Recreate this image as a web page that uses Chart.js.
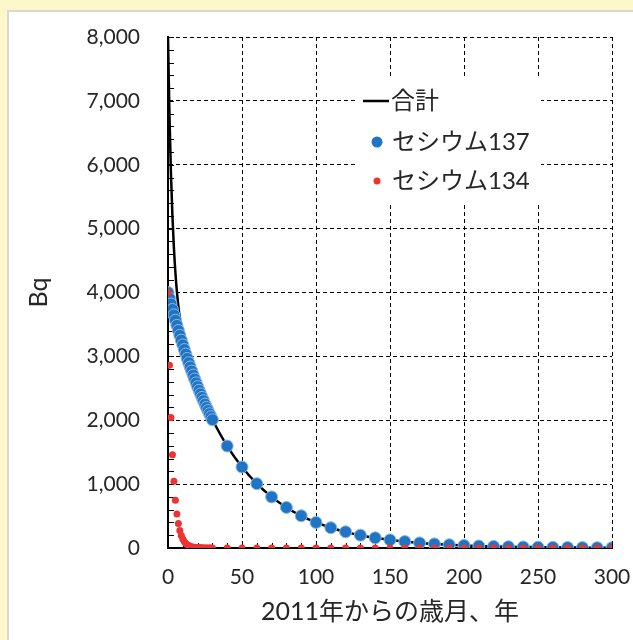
<!DOCTYPE html>
<html>
<head>
<meta charset="utf-8">
<script src="https://cdn.jsdelivr.net/npm/chart.js@4.4.1/dist/chart.umd.min.js"></script>
<style>
  html, body { margin: 0; padding: 0; background: #FCF8CC; }
  #frame { position: absolute; left: 0; top: 0; width: 633px; height: 640px; overflow: hidden; }
  #panel { position: absolute; left: 7px; top: 10px; right: -2px; bottom: -2px; background: #fff; border: 2px solid #d9d9d2; box-sizing: border-box; }
  #c { position: absolute; left: 0; top: 0; }
</style>
</head>
<body>
<div id="frame">
  <div id="panel"></div>
  <canvas id="c" width="633" height="640"></canvas>
</div>
<script>
// Years after 2011: yearly for the first 30 years, then every 10 years
const years = [0, 1, 2, 3, 4, 5, 6, 7, 8, 9, 10, 11, 12, 13, 14, 15, 16, 17, 18, 19, 20,
  21, 22, 23, 24, 25, 26, 27, 28, 29, 30,
  40, 50, 60, 70, 80, 90, 100, 110, 120, 130, 140, 150, 160, 170, 180, 190, 200,
  210, 220, 230, 240, 250, 260, 270, 280, 290, 300];

// Cs-137 activity (Bq)
const cs137 = [4000, 3909, 3820, 3734, 3649, 3566, 3485, 3406, 3328, 3253, 3179, 3107, 3036, 2967, 2900, 2834,
  2770, 2707, 2645, 2585, 2526, 2469, 2413, 2358, 2305, 2252, 2201, 2151, 2102, 2055, 2008,
  1596, 1268, 1007, 800, 635, 504, 400, 318, 253, 201, 159, 127, 101, 80, 64, 51, 40,
  32, 25, 20, 16, 13, 10, 8, 6, 5, 4];

// Cs-134 activity (Bq)
const cs134 = [4000, 2860, 2044, 1461, 1045, 747, 534, 382, 273, 195, 139, 100, 71, 51, 36, 26,
  19, 13, 10, 7, 5, 4, 3, 2, 1, 1, 1, 0, 0, 0, 0,
  0, 0, 0, 0, 0, 0, 0, 0, 0, 0, 0, 0, 0, 0, 0, 0, 0,
  0, 0, 0, 0, 0, 0, 0, 0, 0, 0];

// Total activity (Bq)
const total = [8000, 6769, 5864, 5195, 4694, 4313, 4019, 3788, 3601, 3448, 3318, 3207, 3107, 3018, 2936, 2860,
  2789, 2720, 2655, 2592, 2531, 2473, 2416, 2360, 2306, 2253, 2202, 2151, 2102, 2055, 2008,
  1596, 1268, 1007, 800, 635, 504, 400, 318, 253, 201, 159, 127, 101, 80, 64, 51, 40,
  32, 25, 20, 16, 13, 10, 8, 6, 5, 4];

const seriesNames = ['合計', 'セシウム137', 'セシウム134'];
const xTitle = '2011年からの歳月、年';
const yTitle = 'Bq';

const toPoints = (xs, ys) => xs.map((x, i) => ({ x: x, y: ys[i] }));

const LATIN = 'Lato, "Noto Sans CJK JP", sans-serif';
const TEXT = '#262626';

// Small inward tick marks along both axes
const minorTicks = {
  id: 'minorTicks',
  beforeDatasetsDraw(chart) {
    const { ctx, scales: { x, y } } = chart;
    ctx.save();
    ctx.strokeStyle = '#000';
    ctx.lineWidth = 1;
    ctx.beginPath();
    for (let v = 0; v <= 8000; v += 200) {
      const py = Math.round(y.getPixelForValue(v)) + 0.5;
      ctx.moveTo(x.left, py);
      ctx.lineTo(x.left + 6, py);
    }
    for (let v = 0; v <= 300; v += 10) {
      const px = Math.round(x.getPixelForValue(v)) + 0.5;
      ctx.moveTo(px, y.bottom);
      ctx.lineTo(px, y.bottom - 5);
    }
    ctx.stroke();
    ctx.restore();
  }
};

// Legend drawn inside the plot on a white box
const insideLegend = {
  id: 'insideLegend',
  afterDraw(chart) {
    const { ctx } = chart;
    ctx.save();
    ctx.fillStyle = '#fff';
    ctx.fillRect(357, 79, 184, 125);
    ctx.font = '24px ' + LATIN;
    ctx.textBaseline = 'middle';
    ctx.textAlign = 'left';
    ctx.fillStyle = TEXT;

    // line item
    ctx.strokeStyle = '#000';
    ctx.lineWidth = 2.5;
    ctx.beginPath();
    ctx.moveTo(363, 101);
    ctx.lineTo(389, 101);
    ctx.stroke();
    ctx.fillText(seriesNames[0], 391, 101);

    // blue marker item
    ctx.beginPath();
    ctx.arc(377, 142, 5.5, 0, Math.PI * 2);
    ctx.fillStyle = '#1F74C4';
    ctx.fill();
    ctx.fillStyle = TEXT;
    ctx.fillText(seriesNames[1], 392, 142);

    // red marker item
    ctx.beginPath();
    ctx.arc(377, 181, 3.5, 0, Math.PI * 2);
    ctx.fillStyle = '#EE3333';
    ctx.fill();
    ctx.fillStyle = TEXT;
    ctx.fillText(seriesNames[2], 392, 181);
    ctx.restore();
  }
};

new Chart(document.getElementById('c'), {
  type: 'scatter',
  data: {
    datasets: [
      {
        label: seriesNames[2],
        data: toPoints(years, cs134),
        backgroundColor: '#EE3333',
        borderWidth: 0,
        pointRadius: 3.5,
        showLine: false
      },
      {
        label: seriesNames[1],
        data: toPoints(years, cs137),
        backgroundColor: '#1F74C4',
        borderColor: '#8DB8E4',
        borderWidth: 1,
        pointRadius: 6,
        showLine: false
      },
      {
        label: seriesNames[0],
        data: toPoints(years, total),
        borderColor: '#000',
        borderWidth: 2.5,
        pointRadius: 0,
        showLine: true,
        fill: false,
        cubicInterpolationMode: 'monotone'
      }
    ]
  },
  options: {
    responsive: false,
    animation: false,
    devicePixelRatio: 1,
    layout: { padding: { left: 0, right: 21, top: 37, bottom: 0 } },
    plugins: { legend: { display: false }, tooltip: { enabled: false } },
    scales: {
      x: {
        type: 'linear',
        min: 0,
        max: 300,
        afterFit(s) { s.height = 92; s.paddingLeft = 0; s.paddingRight = 0; },
        ticks: { stepSize: 50, color: TEXT, font: { family: LATIN, size: 21 }, padding: 17, maxRotation: 0 },
        grid: { color: '#000', lineWidth: 1, drawTicks: false },
        border: { display: true, color: '#000', width: 2, dash: [4, 3] },
        title: { display: true, text: xTitle, color: TEXT, font: { family: LATIN, size: 25 }, padding: { top: 0, bottom: 13 } }
      },
      y: {
        min: 0,
        max: 8000,
        afterFit(s) { s.width = 168; s.paddingTop = 0; s.paddingBottom = 0; },
        ticks: {
          stepSize: 1000, color: TEXT, font: { family: LATIN, size: 21 }, padding: 28,
          callback: v => v.toLocaleString('en-US')
        },
        grid: { color: '#000', lineWidth: 1, drawTicks: false },
        border: { display: true, color: '#000', width: 2, dash: [4, 3] },
        title: { display: true, text: yTitle, color: TEXT, font: { family: LATIN, size: 25 }, padding: { top: 24, bottom: 0 } }
      }
    }
  },
  plugins: [minorTicks, insideLegend]
});
</script>
</body>
</html>
